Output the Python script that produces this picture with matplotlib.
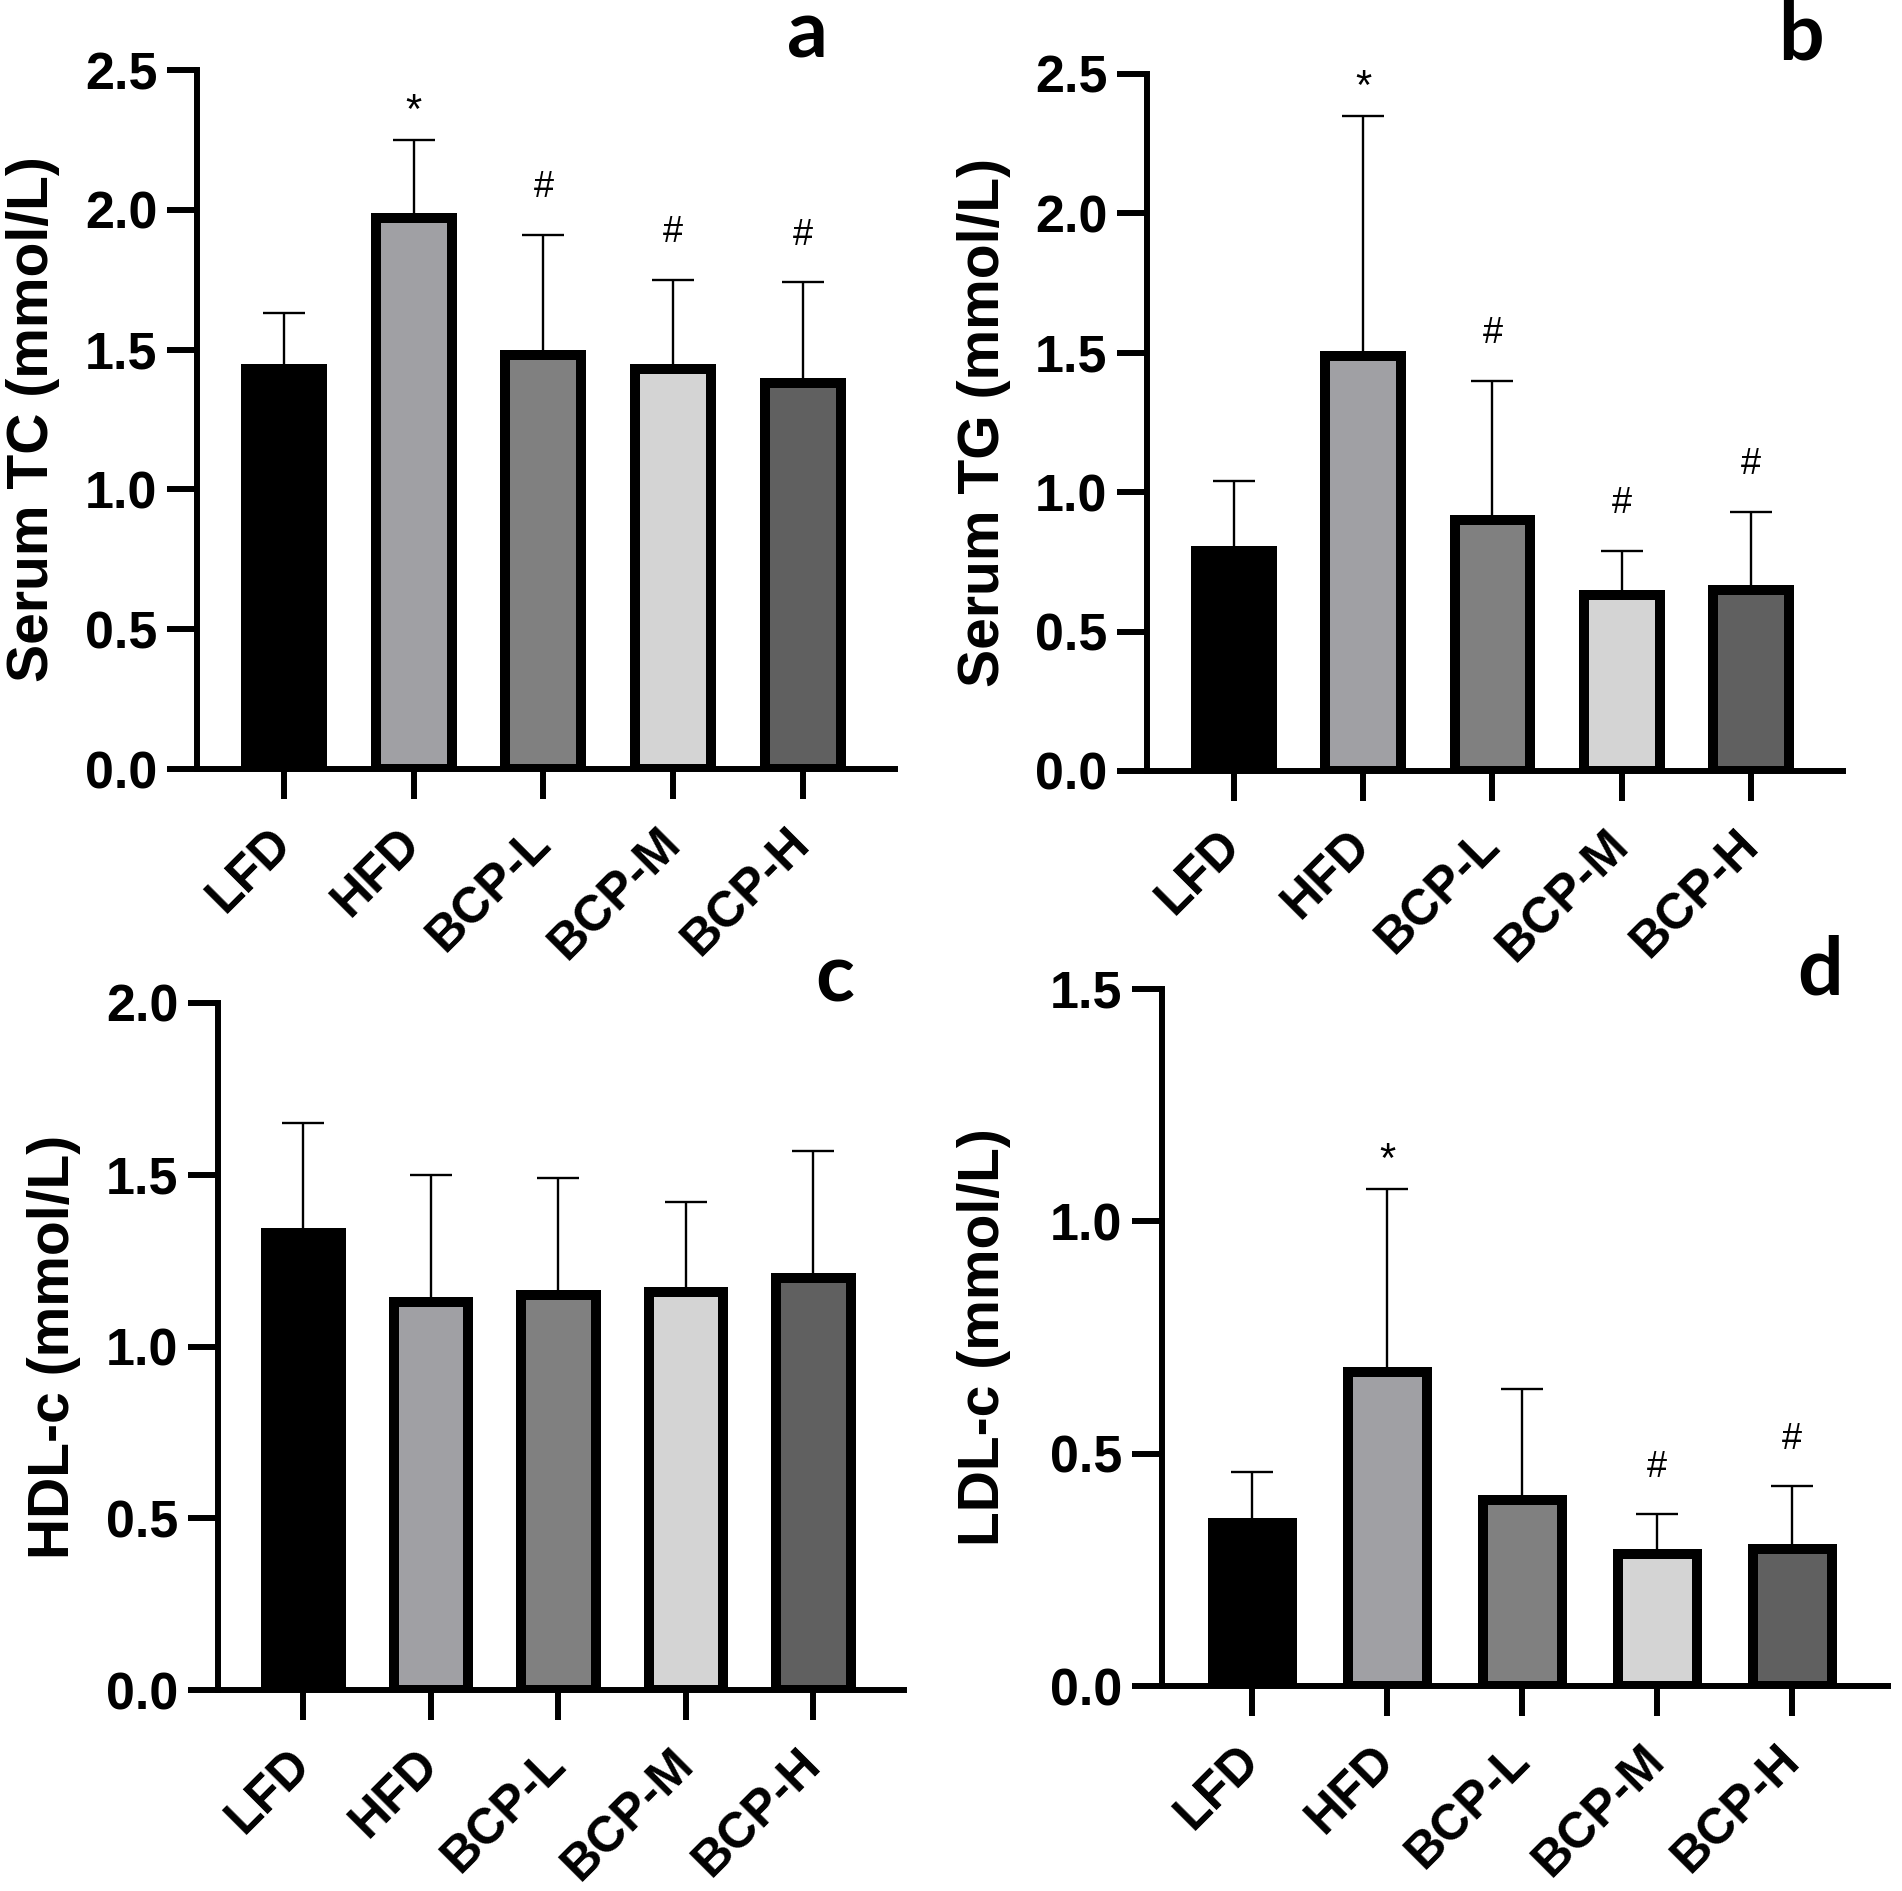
import matplotlib
matplotlib.use('Agg')
import matplotlib.pyplot as plt
from matplotlib.ticker import MultipleLocator, FormatStrFormatter

# group names and bar fills (shared by all four panels)
groups = ['LFD', 'HFD', 'BCP-L', 'BCP-M', 'BCP-H']
bar_colors = ['#000000', '#a0a0a4', '#808080', '#d4d4d4', '#606060']

# a: serum TC (mean and top of the SD bar)
tc_mean = [1.43, 1.97, 1.48, 1.43, 1.38]
tc_top = [1.63, 2.25, 1.91, 1.75, 1.74]
tc_marks = ['', '*', '#', '#', '#']

# b: serum TG
tg_mean = [0.79, 1.49, 0.90, 0.63, 0.65]
tg_top = [1.04, 2.35, 1.40, 0.79, 0.93]
tg_marks = ['', '*', '#', '#', '#']

# c: HDL-c
hdl_mean = [1.33, 1.13, 1.15, 1.16, 1.20]
hdl_top = [1.65, 1.50, 1.49, 1.42, 1.57]
hdl_marks = ['', '', '', '', '']

# d: LDL-c
ldl_mean = [0.35, 0.675, 0.40, 0.285, 0.295]
ldl_top = [0.46, 1.07, 0.64, 0.37, 0.43]
ldl_marks = ['', '*', '', '#', '#']

W, H = 1902, 1891
fig = plt.figure(figsize=(W / 100, H / 100), dpi=100)
fig.patch.set_facecolor('white')

FONT = 'Liberation Sans'

# pixel box (left, top, right, bottom), data, ylabel, y max, letter, letter pos, ylabel right edge px
panels = [
    ((197, 70, 895, 769), tc_mean, tc_top, tc_marks, 'Serum TC (mmol/L)', 2.5, 'a', (807, 57), 60),
    ((1147, 74, 1843, 771), tg_mean, tg_top, tg_marks, 'Serum TG (mmol/L)', 2.5, 'b', (1801, 60), 1011),
    ((218, 1003, 904, 1690), hdl_mean, hdl_top, hdl_marks, 'HDL-c (mmol/L)', 2.0, 'c', (835, 1002), 81),
    ((1162, 989, 1888, 1686), ldl_mean, ldl_top, ldl_marks, 'LDL-c (mmol/L)', 1.5, 'd', (1820, 994), 1011),
]

x = list(range(len(groups)))

for box, mean, top, marks, ylab, ymax, letter, lpos, labx in panels:
    l, t, r, b = box
    ax = fig.add_axes([l / W, 1 - b / H, (r - l) / W, (b - t) / H])
    up = [tp - m for tp, m in zip(top, mean)]
    # one-sided (upper) SD bars, drawn under the bars
    ax.errorbar(x, mean, yerr=[[0] * len(mean), up], fmt='none', ecolor='black',
                elinewidth=1.7, capsize=15, capthick=1.7, zorder=1)
    ax.bar(x, mean, width=0.585, color=bar_colors, edgecolor='black',
           linewidth=7.2, zorder=2)
    for xi, tp, mk in zip(x, top, marks):
        if mk == '*':
            ax.annotate(mk, (xi, tp), xytext=(0, 12), textcoords='offset points',
                        ha='center', va='baseline', fontsize=30, family=FONT)
        elif mk == '#':
            ax.annotate(mk, (xi, tp), xytext=(0, 27), textcoords='offset points',
                        ha='center', va='baseline', fontsize=26, family=FONT)

    ax.set_xlim(-0.67, 4.71)
    ax.set_ylim(0, ymax)
    ax.yaxis.set_major_locator(MultipleLocator(0.5))
    ax.yaxis.set_major_formatter(FormatStrFormatter('%.1f'))
    for s in ['top', 'right']:
        ax.spines[s].set_visible(False)
    for s in ['left', 'bottom']:
        ax.spines[s].set_linewidth(4.3)
    ax.tick_params(axis='both', direction='out', length=21.6, width=4.3)
    ax.tick_params(axis='y', pad=7)
    ax.tick_params(axis='x', pad=26.5)
    ax.set_xticks(x)
    ax.set_xticklabels(groups, rotation=45, ha='right', va='center',
                       rotation_mode='anchor', fontsize=36,
                       fontweight='bold', family=FONT)
    for lab in ax.get_yticklabels():
        lab.set_fontsize(37.5)
        lab.set_fontweight('bold')
        lab.set_family(FONT)
    ax.set_ylabel(ylab, fontsize=41, fontweight='bold', family=FONT)
    ax.yaxis.set_label_coords((labx - l) / (r - l), 0.5)

    fig.text(lpos[0] / W, 1 - lpos[1] / H, letter, ha='center', va='baseline',
             fontsize=58, fontweight='bold', family='Lato')

fig.savefig('out.png', dpi=100, facecolor='white')
